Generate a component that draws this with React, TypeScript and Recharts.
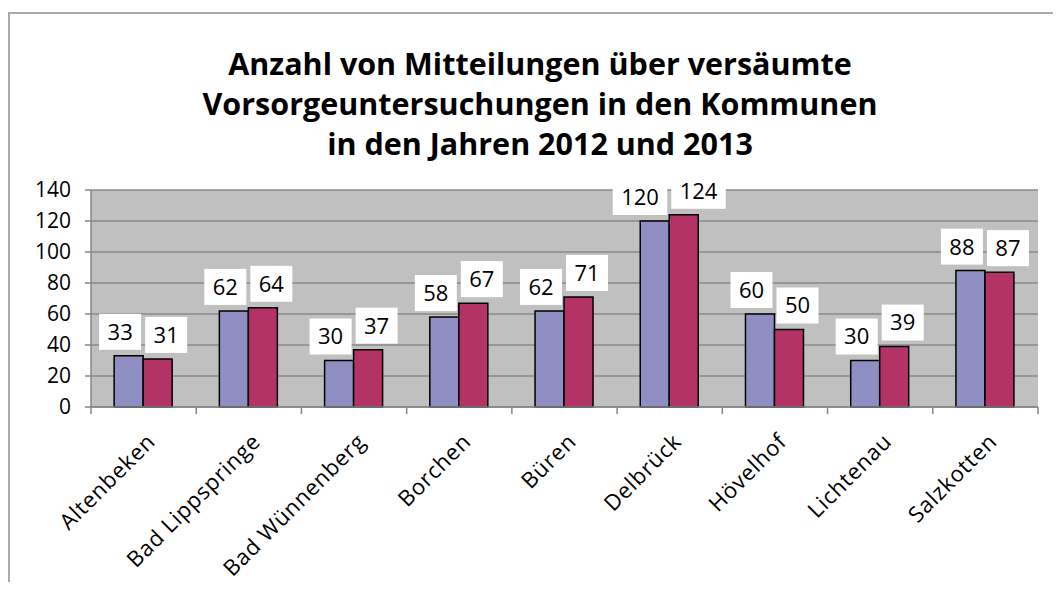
import React from 'react'
import { BarChart, Bar, XAxis, YAxis, CartesianGrid, LabelList } from 'recharts'

const communes = ['Altenbeken', 'Bad Lippspringe', 'Bad Wünnenberg', 'Borchen', 'Büren', 'Delbrück', 'Hövelhof', 'Lichtenau', 'Salzkotten']
const values2012 = [33, 62, 30, 58, 62, 120, 60, 30, 88]
const values2013 = [31, 64, 37, 67, 71, 124, 50, 39, 87]
const yTicks = [0, 20, 40, 60, 80, 100, 120, 140]
const titleLines = ['Anzahl von Mitteilungen über versäumte', 'Vorsorgeuntersuchungen in den Kommunen', 'in den Jahren 2012 und 2013']

const data = communes.map((name, i) => ({ name, y2012: values2012[i], y2013: values2013[i] }))

const FONT = '"Open Sans", sans-serif'
const AXIS_GREY = '#868686'

function XTick(props: any) {
  const { x, y, payload, index, visibleTicksCount } = props
  const half = payload.offset || 0
  return (
    <g>
      <line x1={x - half} y1={y} x2={x - half} y2={y + 7} stroke={AXIS_GREY} strokeWidth={1.5} />
      {index === visibleTicksCount - 1 && (
        <line x1={x + half} y1={y} x2={x + half} y2={y + 7} stroke={AXIS_GREY} strokeWidth={1.5} />
      )}
      <text
        x={x + 13}
        y={y + 36}
        transform={`rotate(-45, ${x + 13}, ${y + 36})`}
        textAnchor="end"
        fontSize={22}
        letterSpacing={0.8}
        fontFamily={FONT}
        fill="#000"
      >
        {payload.value}
      </text>
    </g>
  )
}

function makeLabel(side: 'left' | 'right') {
  return (props: any) => {
    const { x, y, width, value } = props
    const txt = String(value)
    const w = txt.length * 12.5 + 17
    const h = 36
    const bx = side === 'left' ? x + width - 2 - w : x + 2
    const by = y - 6 - h
    return (
      <g>
        <rect x={bx} y={by} width={w} height={h} fill="#fff" />
        <text x={bx + w / 2} y={by + h / 2} dy="0.36em" textAnchor="middle" fontSize={22} fontFamily={FONT} fill="#000">
          {txt}
        </text>
      </g>
    )
  }
}

export default function App() {
  return (
    <div style={{ position: 'relative', width: 1053, height: 574, overflow: 'hidden', background: '#fff' }}>
      <div
        style={{
          position: 'absolute', left: 0, top: 4, width: 1200, height: 800,
          borderTop: '2px solid #ababab', borderLeft: '2px solid #ababab',
        }}
      />
      <div
        style={{
          position: 'absolute', left: 0, top: 35, width: 1064, textAlign: 'center',
          fontFamily: FONT, fontWeight: 700, fontSize: 30.5, lineHeight: '40px', color: '#000',
        }}
      >
        {titleLines.map(l => <div key={l}>{l}</div>)}
      </div>
      <div style={{ position: 'absolute', left: 0, top: 0 }}>
        <BarChart
          width={1053}
          height={574}
          data={data}
          margin={{ top: 182, right: 23, bottom: 0, left: 0 }}
          barCategoryGap="22%"
          barGap={0}
        >
          <CartesianGrid vertical={false} stroke="#8a8a8a" strokeWidth={1.5} fill="#c0c0c0" />
          <XAxis
            dataKey="name"
            interval={0}
            height={175}
            tickSize={0}
            tickMargin={0}
            tickLine={false}
            axisLine={{ stroke: AXIS_GREY, strokeWidth: 1.5 }}
            tick={<XTick />}
          />
          <YAxis
            width={83}
            domain={[0, 140]}
            ticks={yTicks}
            interval={0}
            tickSize={6}
            tickMargin={14}
            axisLine={{ stroke: AXIS_GREY, strokeWidth: 1.5 }}
            tickLine={{ stroke: AXIS_GREY, strokeWidth: 1.5 }}
            tick={{ fontSize: 21, fill: '#000', fontFamily: FONT }}
          />
          <Bar dataKey="y2012" fill="#8f8fc3" stroke="#000" strokeWidth={1.5} isAnimationActive={false}>
            <LabelList dataKey="y2012" content={makeLabel('left')} />
          </Bar>
          <Bar dataKey="y2013" fill="#b33366" stroke="#000" strokeWidth={1.5} isAnimationActive={false}>
            <LabelList dataKey="y2013" content={makeLabel('right')} />
          </Bar>
        </BarChart>
      </div>
    </div>
  )
}
